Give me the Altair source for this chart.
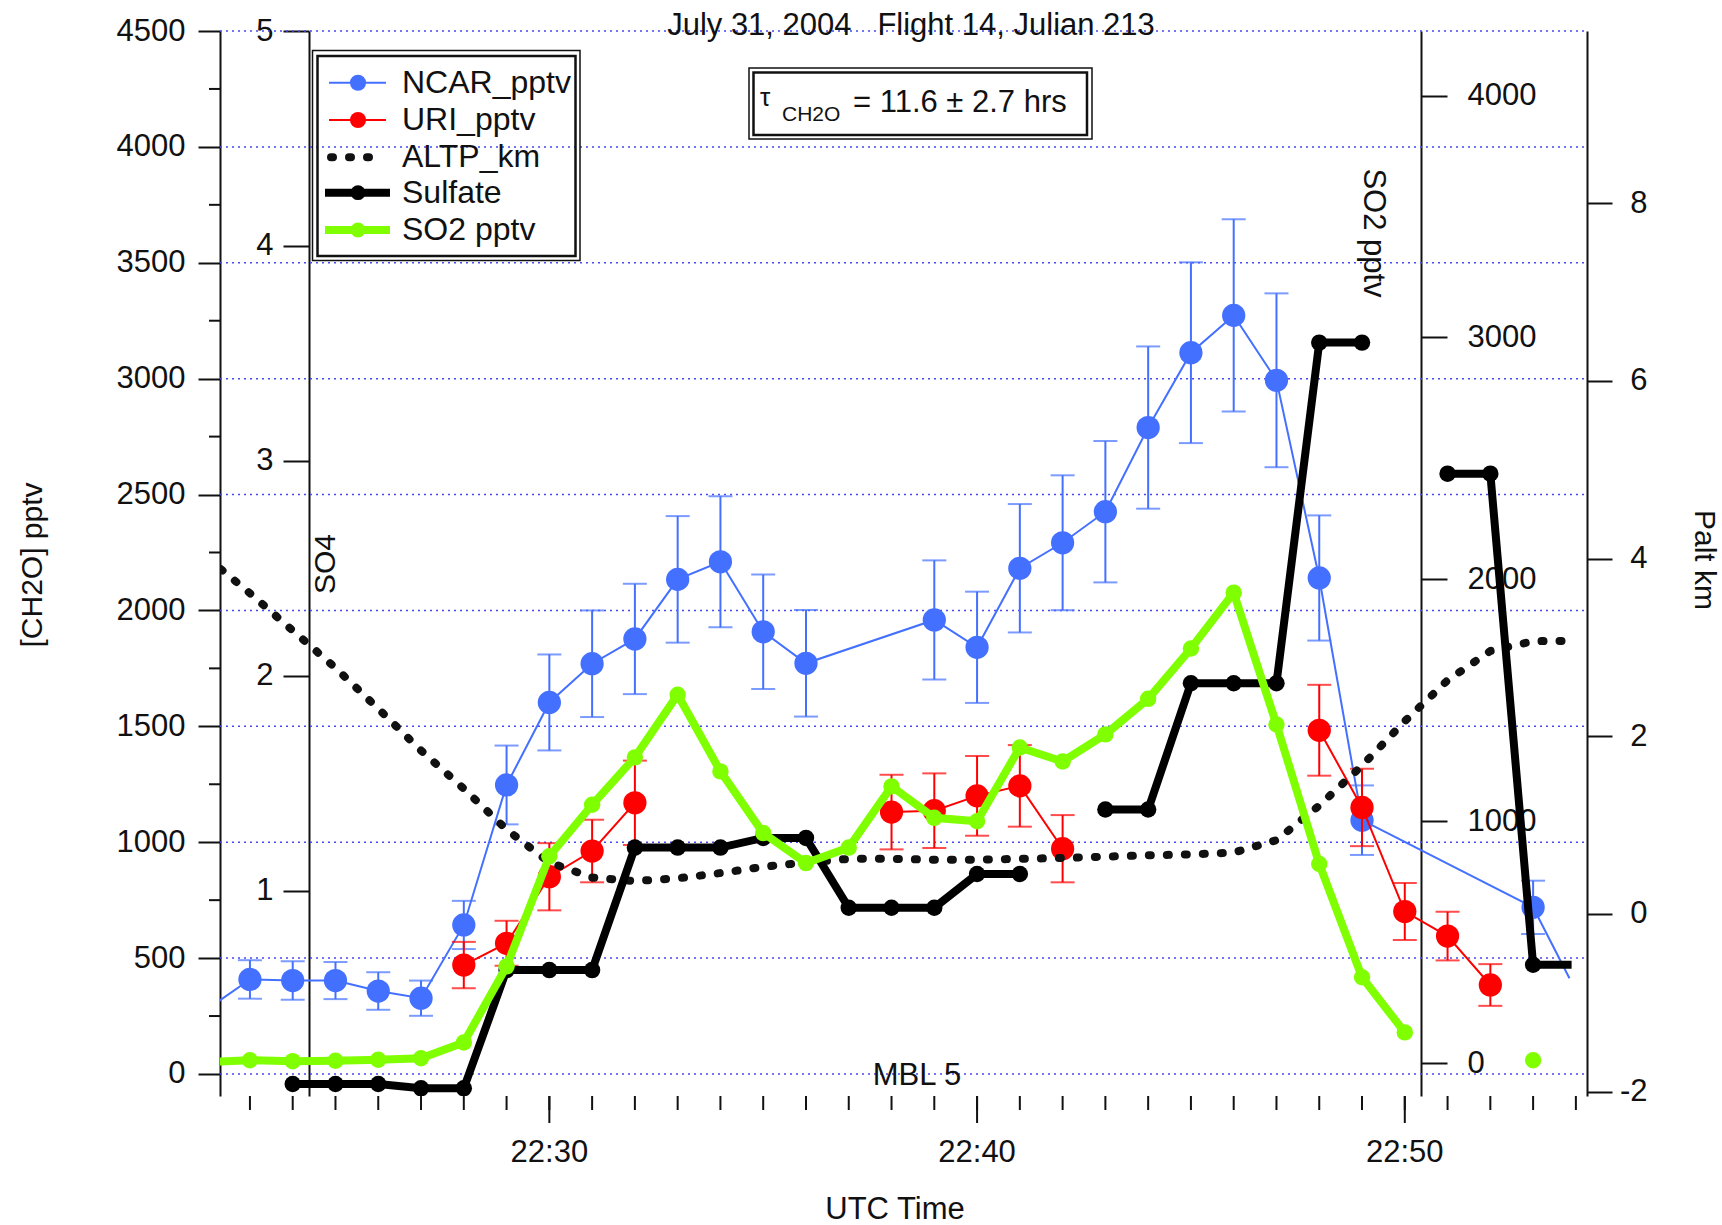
import altair as alt
import pandas as pd

# ---------------- data (minutes after 22:00 UTC) ----------------
ncar_t = [23, 24, 25, 26, 27, 28, 29, 30, 31, 32, 33, 34, 35, 36, 39, 40, 41, 42, 43, 44, 45, 46, 47, 48, 49, 53]
ncar_v = [408, 403, 403, 358, 327, 643, 1247, 1603, 1770, 1877, 2134, 2210, 1908, 1772, 1959, 1841, 2182, 2292, 2426, 2789, 3112, 3273, 2993, 2140, 1095, 719]
ncar_err = [83, 83, 80, 81, 76, 104, 170, 207, 230, 238, 273, 283, 247, 230, 257, 240, 277, 291, 305, 350, 390, 415, 375, 270, 150, 115]
ncar_line_t = [22] + ncar_t + [53.85]
ncar_line_v = [280] + ncar_v + [413]

uri_t = [28, 29, 30, 31, 32, 38, 39, 40, 41, 42, 48, 49, 50, 51, 52]
uri_v = [470, 564, 851, 962, 1170, 1130, 1136, 1200, 1243, 972, 1483, 1150, 701, 595, 384]
uri_err = [100, 97, 145, 135, 182, 161, 161, 172, 176, 145, 196, 167, 123, 105, 90]
uri_seg = [1, 1, 1, 1, 1, 2, 2, 2, 2, 2, 3, 3, 3, 3, 3]

so2_t = [22, 23, 24, 25, 26, 27, 28, 29, 30, 31, 32, 33, 34, 35, 36, 37, 38, 39, 40, 41, 42, 43, 44, 45, 46, 47, 48, 49, 50, 53]
so2_v = [5, 12, 8, 10, 14, 20, 85, 400, 855, 1068, 1264, 1523, 1206, 951, 827, 891, 1144, 1014, 1000, 1305, 1247, 1359, 1506, 1714, 1945, 1400, 823, 355, 127, 12]
so2_seg = [1] * 29 + [2]

su_t = [24, 25, 26, 27, 28, 29, 30, 31, 32, 33, 34, 35, 36, 37, 38, 39, 40, 41, 43, 44, 45, 46, 47, 48, 49, 51, 52, 53]
su_v = [0.10, 0.10, 0.10, 0.08, 0.08, 0.63, 0.63, 0.63, 1.20, 1.20, 1.20, 1.245, 1.245, 0.92, 0.92, 0.92,
        1.077, 1.077, 1.377, 1.377, 1.965, 1.965, 1.965, 3.55, 3.55, 2.94, 2.94, 0.655]
su_seg = [1] * 18 + [2] * 7 + [3] * 3
su_line_t = su_t + [53.9]
su_line_v = su_v + [0.655]
su_line_seg = su_seg + [3]

alt_t = [22, 23, 24, 25, 26, 27, 28, 29, 30, 31, 32, 33, 34, 35, 36, 37, 38, 39, 40, 41, 42, 43, 44, 45, 46, 47, 48, 49, 50, 51, 52, 53, 53.9]
alt_v = [4.01, 3.61, 3.19, 2.77, 2.31, 1.84, 1.41, 0.95, 0.58, 0.41, 0.37, 0.40, 0.46, 0.53, 0.58, 0.62, 0.62, 0.61, 0.61,
         0.62, 0.63, 0.645, 0.66, 0.67, 0.69, 0.83, 1.22, 1.67, 2.17, 2.63, 2.96, 3.07, 3.075]

ch2o_ticks = [0, 500, 1000, 1500, 2000, 2500, 3000, 3500, 4000, 4500]
ch2o_minor = [250, 750, 1250, 1750, 2250, 2750, 3250, 3750, 4250]
so4_ticks = [1, 2, 3, 4, 5]
so2_ticks = [0, 1000, 2000, 3000, 4000]
palt_ticks = [-2, 0, 2, 4, 6, 8]
x_major = [30, 40, 50]
x_labels = ["22:30", "22:40", "22:50"]
x_minor = list(range(23, 55))

legend_names = ["NCAR_pptv", "URI_pptv", "ALTP_km", "Sulfate", "SO2 pptv"]

# ---------------- style ----------------
W, H = 1367, 1065
FONT = "Liberation Sans"
TXT = "#111111"
BLUE = "#4470ff"
RED = "#ff0000"
GREEN = "#80ff00"
GRIDC = "#4848f0"

XDOM = [22.30, 54.26]
CH2O_DOM = [-95, 4500]
SO4_DOM = [0.044, 5]
SO2_DOM = [-136, 4267]
PALT_DOM = [-2.05, 9.94]

xscale = alt.Scale(domain=XDOM, nice=False, zero=False)


def X(field="t", axis=None):
    return alt.X(f"{field}:Q", scale=xscale, axis=axis)


def Y(field, dom, axis=None):
    return alt.Y(f"{field}:Q", scale=alt.Scale(domain=dom, nice=False, zero=False), axis=axis)


AX = dict(labelFont=FONT, labelFontSize=31, labelColor=TXT, domainColor=TXT, domainWidth=2,
          tickColor=TXT, tickWidth=2, labelFlush=False, labelOverlap=False, grid=False, title=None)

ax_ch2o = alt.Axis(orient="left", values=ch2o_ticks, tickSize=22, labelPadding=13,
                   labelExpr="'' + datum.value", **AX)
ax_so4 = alt.Axis(orient="left", offset=-89, values=so4_ticks, tickSize=26, labelPadding=10,
                  labelExpr="'' + datum.value", **AX)
ax_so2 = alt.Axis(orient="right", offset=-166, values=so2_ticks, tickSize=26, labelPadding=20,
                  labelExpr="'' + datum.value", **AX)
ax_palt = alt.Axis(orient="right", values=palt_ticks, tickSize=25, labelPadding=35, labelAlign="right",
                   labelExpr="'' + datum.value", **AX)
ax_x = alt.Axis(orient="bottom", values=x_major, ticks=False, labels=False, **AX)

ONE = pd.DataFrame({"a": [0]})

layers = []

# gridlines + left axis
grid = alt.Chart(pd.DataFrame({"g": ch2o_ticks})).mark_rule(
    color=GRIDC, strokeDash=[2, 4], strokeWidth=1.5).encode(
    x=alt.value(0), x2=alt.value(W), y=Y("g", CH2O_DOM, ax_ch2o))
layers.append(grid)

# minor ticks on left axis
layers.append(alt.Chart(pd.DataFrame({"g": ch2o_minor})).mark_rule(color=TXT, strokeWidth=2).encode(
    x=alt.value(0), x2=alt.value(-11), y=Y("g", CH2O_DOM)))

# x axis: minor ticks (carry the axis line), major ticks, labels
layers.append(alt.Chart(pd.DataFrame({"m": x_minor})).mark_rule(color=TXT, strokeWidth=2).encode(
    x=X("m", ax_x), y=alt.value(H), y2=alt.value(H + 14)))
xmaj = pd.DataFrame({"m": x_major, "lab": x_labels})
layers.append(alt.Chart(xmaj).mark_rule(color=TXT, strokeWidth=2).encode(
    x=X("m"), y=alt.value(H), y2=alt.value(H + 27)))
layers.append(alt.Chart(xmaj).mark_text(font=FONT, fontSize=31, color=TXT, align="center",
                                        baseline="alphabetic").encode(
    x=X("m"), y=alt.value(H + 66), text="lab:N"))

# NCAR
ncar = pd.DataFrame({"t": ncar_t, "v": ncar_v,
                     "lo": [v - e for v, e in zip(ncar_v, ncar_err)],
                     "hi": [v + e for v, e in zip(ncar_v, ncar_err)]})
ncar_line = pd.DataFrame({"t": ncar_line_t, "v": ncar_line_v})
layers.append(alt.Chart(ncar_line).mark_line(color=BLUE, strokeWidth=2, clip=True).encode(
    x=X(), y=Y("v", CH2O_DOM)))
layers.append(alt.Chart(ncar).mark_rule(color=BLUE, strokeWidth=2).encode(
    x=X(), y=Y("lo", CH2O_DOM), y2="hi:Q"))
for f in ["lo", "hi"]:
    layers.append(alt.Chart(ncar).mark_tick(color=BLUE, orient="horizontal", size=24, thickness=2).encode(
        x=X(), y=Y(f, CH2O_DOM)))
layers.append(alt.Chart(ncar).mark_circle(color=BLUE, size=540, opacity=1).encode(
    x=X(), y=Y("v", CH2O_DOM)))

# URI
uri = pd.DataFrame({"t": uri_t, "v": uri_v, "seg": uri_seg,
                    "lo": [v - e for v, e in zip(uri_v, uri_err)],
                    "hi": [v + e for v, e in zip(uri_v, uri_err)]})
layers.append(alt.Chart(uri).mark_line(color=RED, strokeWidth=2, clip=True).encode(
    x=X(), y=Y("v", CH2O_DOM), detail="seg:N"))
layers.append(alt.Chart(uri).mark_rule(color=RED, strokeWidth=2).encode(
    x=X(), y=Y("lo", CH2O_DOM), y2="hi:Q"))
for f in ["lo", "hi"]:
    layers.append(alt.Chart(uri).mark_tick(color=RED, orient="horizontal", size=24, thickness=2).encode(
        x=X(), y=Y(f, CH2O_DOM)))
layers.append(alt.Chart(uri).mark_circle(color=RED, size=540, opacity=1).encode(
    x=X(), y=Y("v", CH2O_DOM)))

# ALTP (dotted) + Palt axis
altp = pd.DataFrame({"t": alt_t, "v": alt_v})
layers.append(alt.Chart(altp).mark_line(color=TXT, strokeWidth=8, strokeDash=[2, 16], strokeCap="round",
                                        clip=True).encode(x=X(), y=Y("v", PALT_DOM, ax_palt)))

# Sulfate + SO4 axis
su_line = pd.DataFrame({"t": su_line_t, "v": su_line_v, "seg": su_line_seg})
su = pd.DataFrame({"t": su_t, "v": su_v})
layers.append(alt.Chart(su_line).mark_line(color="black", strokeWidth=8, clip=True).encode(
    x=X(), y=Y("v", SO4_DOM, ax_so4), detail="seg:N"))
layers.append(alt.Chart(su).mark_circle(color="black", size=270, opacity=1, clip=True).encode(
    x=X(), y=Y("v", SO4_DOM)))

# SO2 + SO2 axis
so2 = pd.DataFrame({"t": so2_t, "v": so2_v, "seg": so2_seg})
layers.append(alt.Chart(so2).mark_line(color=GREEN, strokeWidth=8, clip=True).encode(
    x=X(), y=Y("v", SO2_DOM, ax_so2), detail="seg:N"))
layers.append(alt.Chart(so2).mark_circle(color=GREEN, size=270, opacity=1, clip=True).encode(
    x=X(), y=Y("v", SO2_DOM)))


# ---------------- annotations ----------------
def txt(s, x, y, size=31, angle=0, align="left", baseline="alphabetic"):
    return alt.Chart(ONE).mark_text(text=s, fontSize=size, font=FONT, color=TXT, align=align,
                                    baseline=baseline, angle=angle).encode(x=alt.value(x), y=alt.value(y))


def box(x1, y1, x2, y2, w):
    return alt.Chart(ONE).mark_rect(fillOpacity=0, stroke=TXT, strokeWidth=w).encode(
        x=alt.value(x1), x2=alt.value(x2), y=alt.value(y1), y2=alt.value(y2))


layers.append(txt("July 31, 2004\u00a0\u00a0\u00a0Flight 14, Julian 213", 691, 4, align="center"))
layers.append(box(529, 37, 872, 108, 1.5))
layers.append(box(533.5, 41.5, 867, 104, 2.5))
layers.append(txt("\u03c4", 540, 75, size=26))
layers.append(txt("CH2O", 562, 90, size=21))
layers.append(txt("= 11.6 \u00b1 2.7 hrs", 633, 81, size=31))

# legend
layers.append(box(92.5, 19.5, 360, 229.5, 1.5))
layers.append(box(97.5, 25, 355.5, 225, 2.5))
leg_y = [51.7, 89, 126.3, 161.7, 199]
leg_col = [BLUE, RED, TXT, "black", GREEN]
for i, (name, yy, col) in enumerate(zip(legend_names, leg_y, leg_col)):
    if i < 2:
        layers.append(alt.Chart(ONE).mark_rule(color=col, strokeWidth=2).encode(
            x=alt.value(109), x2=alt.value(166), y=alt.value(yy)))
        layers.append(alt.Chart(ONE).mark_circle(color=col, size=260, opacity=1).encode(
            x=alt.value(138), y=alt.value(yy)))
    elif i == 2:
        layers.append(alt.Chart(ONE).mark_rule(color=col, strokeWidth=8, strokeDash=[2, 16],
                                               strokeCap="round").encode(
            x=alt.value(111), x2=alt.value(160), y=alt.value(yy)))
    else:
        layers.append(alt.Chart(ONE).mark_rule(color=col, strokeWidth=8).encode(
            x=alt.value(105), x2=alt.value(170), y=alt.value(yy)))
        layers.append(alt.Chart(ONE).mark_circle(color=col, size=220, opacity=1).encode(
            x=alt.value(138), y=alt.value(yy)))
    layers.append(txt(name, 182, yy + 10, size=32))

# axis titles and notes
layers.append(txt("[CH2O] pptv", -187, 534, angle=270, align="center", baseline="middle", size=30))
layers.append(txt("SO4", 106, 533, angle=270, align="center", baseline="middle", size=30))
layers.append(txt("SO2 pptv", 1153, 202, angle=90, align="center", baseline="middle", size=31))
layers.append(txt("Palt km", 1484, 529, angle=90, align="center", baseline="middle", size=30))
layers.append(txt("UTC Time", 675, 1188, align="center", size=31))
layers.append(txt("MBL 5", 697, 1054, align="center", size=31))

chart = alt.layer(*layers).resolve_scale(y="independent").properties(
    width=W, height=H,
    padding={"left": 220, "top": 31, "right": 135, "bottom": 129},
    autosize=alt.AutoSizeParams(type="none"),
    background="white",
).configure_view(strokeWidth=0)

chart.save("out.html", embed_options={"renderer": "svg", "actions": False})
